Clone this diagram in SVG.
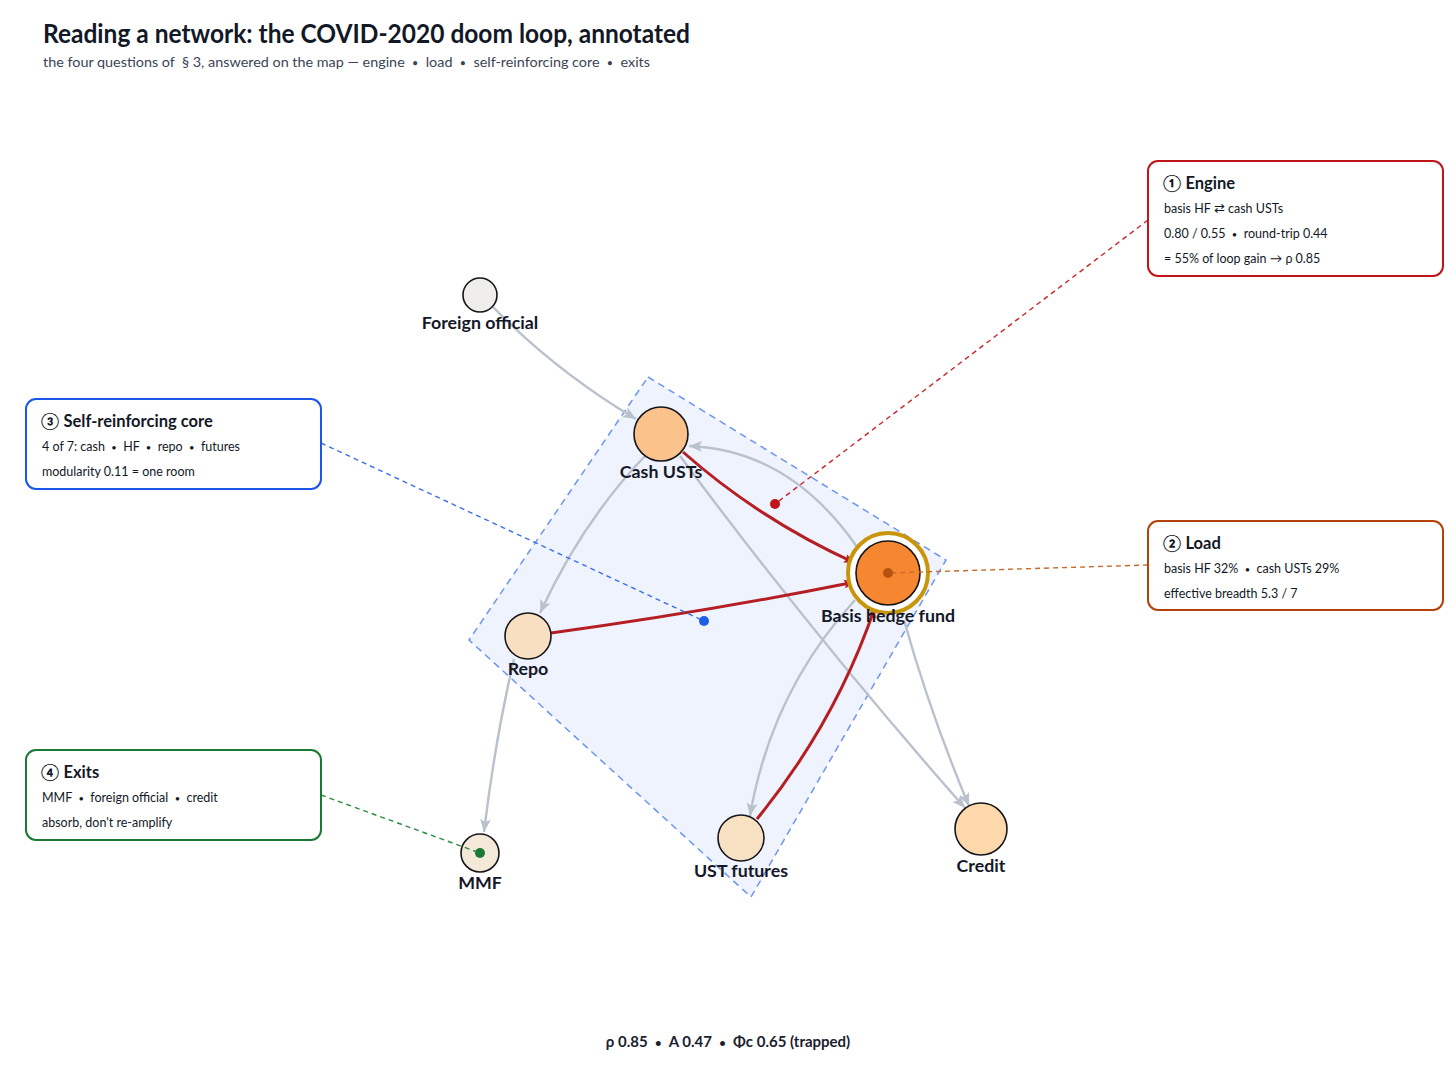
<svg xmlns="http://www.w3.org/2000/svg" width="1456" height="1071" viewBox="0 0 1456 1071">
<style>
  text { font-family: Lato, "Liberation Sans", sans-serif; white-space: pre; }
  .title { font-size: 26px; font-weight: 700; fill: #121826; }
  .sub { font-size: 14px; fill: #3b4456; }
  .nlabel { font-size: 17.8px; font-weight: 700; fill: #141828; text-anchor: middle; }
  .node { stroke: #15151a; stroke-width: 1.6; }
  .gray { fill: none; stroke: #b9c1cd; stroke-width: 2.4; }
  .red { fill: none; stroke: #b51f24; stroke-width: 3; }
  .bh { font-size: 16.5px; font-weight: 700; fill: #121826; }
  .bt { font-size: 12.5px; fill: #121826; }
  .box { fill: #ffffff; stroke-width: 2; }
  .foot { font-size: 15px; font-weight: 700; fill: #1c2130; text-anchor: middle; }
  .dot { font-size: 0.75em; }
</style>
<defs>
  <marker id="ag" markerUnits="userSpaceOnUse" markerWidth="14" markerHeight="12" refX="13" refY="6" orient="auto">
    <path d="M0,0.5 L13,6 L0,11.5 L3,6 z" fill="#b9c1cd"/>
  </marker>
  <marker id="ar" markerUnits="userSpaceOnUse" markerWidth="12" markerHeight="10" refX="11" refY="5" orient="auto">
    <path d="M0,0.5 L11,5 L0,9.5 L2,5 z" fill="#b51f24"/>
  </marker>
</defs>
<rect width="1456" height="1071" fill="#ffffff"/>

<text class="title" x="43" y="43" textLength="647" lengthAdjust="spacingAndGlyphs">Reading a network: the COVID-2020 doom loop, annotated</text>
<text class="sub" x="43" y="67" textLength="607" lengthAdjust="spacingAndGlyphs">the four questions of  § 3, answered on the map — engine  <tspan class="dot">•</tspan>  load  <tspan class="dot">•</tspan>  self-reinforcing core  <tspan class="dot">•</tspan>  exits</text>

<g id="core-region">
  <polygon points="648,377 946,560 751,897 469,640" fill="#eff3fd" stroke="#6d95ef" stroke-width="1.5" stroke-dasharray="7,5" stroke-linejoin="round"/>
</g>

<g id="connectors">
  <path class="gray" d="M493,307 Q557,372 636,419" marker-end="url(#ag)"/>
  <path class="gray" d="M646,455 Q583,520 540,613" marker-end="url(#ag)"/>
  <path class="gray" d="M857,547 Q790,450 689,446" marker-end="url(#ag)"/>
  <path class="gray" d="M855,600 Q771,692 750,816" marker-end="url(#ag)"/>
  <path class="gray" d="M680,456 Q815,638 965,808" marker-end="url(#ag)"/>
  <path class="gray" d="M904,620 Q930,713 969,806" marker-end="url(#ag)"/>
  <path class="gray" d="M514,659 Q495,740 484,832" marker-end="url(#ag)"/>
  <path class="red" d="M683,452 Q760,520 855,563" marker-end="url(#ar)"/>
  <path class="red" d="M551,633 Q705,612 855,582" marker-end="url(#ar)"/>
  <path class="red" d="M757,819 Q836,722 875,607" marker-end="url(#ar)"/>
</g>

<g id="node-foreign-official">
  <circle class="node" cx="480" cy="295" r="17" fill="#efeeea"/>
  <text class="nlabel" x="480" y="329">Foreign official</text>
</g>
<g id="node-cash-usts">
  <circle class="node" cx="661" cy="434" r="27" fill="#fbc38b"/>
  <text class="nlabel" x="661" y="478">Cash USTs</text>
</g>
<g id="node-basis-hedge-fund">
  <circle cx="888" cy="573" r="40" fill="#ffffff" stroke="#c9960b" stroke-width="4"/>
  <circle class="node" cx="888" cy="573" r="32" fill="#f6862f"/>
  <text class="nlabel" x="888" y="622">Basis hedge fund</text>
</g>
<g id="node-repo">
  <circle class="node" cx="528" cy="636" r="23" fill="#f8dfc2"/>
  <text class="nlabel" x="528" y="675">Repo</text>
</g>
<g id="node-mmf">
  <circle class="node" cx="480" cy="853" r="19" fill="#f4e8d8"/>
  <text class="nlabel" x="480" y="889">MMF</text>
</g>
<g id="node-ust-futures">
  <circle class="node" cx="741" cy="838" r="23" fill="#f8e0c3"/>
  <text class="nlabel" x="741" y="877">UST futures</text>
</g>
<g id="node-credit">
  <circle class="node" cx="981" cy="829" r="26" fill="#fdd8ab"/>
  <text class="nlabel" x="981" y="872">Credit</text>
</g>

<g id="leaders">
  <line x1="1148" y1="220" x2="775" y2="504" stroke="#c8252a" stroke-width="1.4" stroke-dasharray="5,4"/>
  <circle cx="775" cy="504" r="5" fill="#c0161b"/>
  <line x1="1148" y1="565" x2="888" y2="573" stroke="#c86a2a" stroke-width="1.4" stroke-dasharray="5,4"/>
  <circle cx="888" cy="573" r="5" fill="#b5530f"/>
  <line x1="321" y1="443" x2="704" y2="621" stroke="#3b6fe8" stroke-width="1.4" stroke-dasharray="5,4"/>
  <circle cx="704" cy="621" r="5" fill="#1f5ee8"/>
  <line x1="321" y1="795" x2="480" y2="853" stroke="#2a8a3e" stroke-width="1.4" stroke-dasharray="5,4"/>
  <circle cx="480" cy="853" r="5" fill="#1a7a35"/>
</g>

<g id="box-engine">
  <rect class="box" x="1148" y="161" width="295" height="115" rx="10" stroke="#c0161b"/>
  <text class="bh" x="1163" y="189">① Engine</text>
  <text class="bt" x="1164" y="213">basis HF ⇄ cash USTs</text>
  <text class="bt" x="1164" y="238">0.80 / 0.55  <tspan class="dot">•</tspan>  round-trip 0.44</text>
  <text class="bt" x="1164" y="263">= 55% of loop gain → ρ 0.85</text>
</g>
<g id="box-load">
  <rect class="box" x="1148" y="521" width="295" height="89" rx="10" stroke="#b5420a"/>
  <text class="bh" x="1163" y="549">② Load</text>
  <text class="bt" x="1164" y="573">basis HF 32%  <tspan class="dot">•</tspan>  cash USTs 29%</text>
  <text class="bt" x="1164" y="598">effective breadth 5.3 / 7</text>
</g>
<g id="box-core">
  <rect class="box" x="26" y="399" width="295" height="90" rx="10" stroke="#1a56e8"/>
  <text class="bh" x="41" y="427">③ Self-reinforcing core</text>
  <text class="bt" x="42" y="451">4 of 7: cash  <tspan class="dot">•</tspan>  HF  <tspan class="dot">•</tspan>  repo  <tspan class="dot">•</tspan>  futures</text>
  <text class="bt" x="42" y="476">modularity 0.11 = one room</text>
</g>
<g id="box-exits">
  <rect class="box" x="26" y="750" width="295" height="90" rx="10" stroke="#1a7a35"/>
  <text class="bh" x="41" y="778">④ Exits</text>
  <text class="bt" x="42" y="802">MMF  <tspan class="dot">•</tspan>  foreign official  <tspan class="dot">•</tspan>  credit</text>
  <text class="bt" x="42" y="827">absorb, don't re-amplify</text>
</g>

<text class="foot" x="728" y="1047">ρ 0.85  <tspan class="dot">•</tspan>  A 0.47  <tspan class="dot">•</tspan>  Φc 0.65 (trapped)</text>
</svg>
